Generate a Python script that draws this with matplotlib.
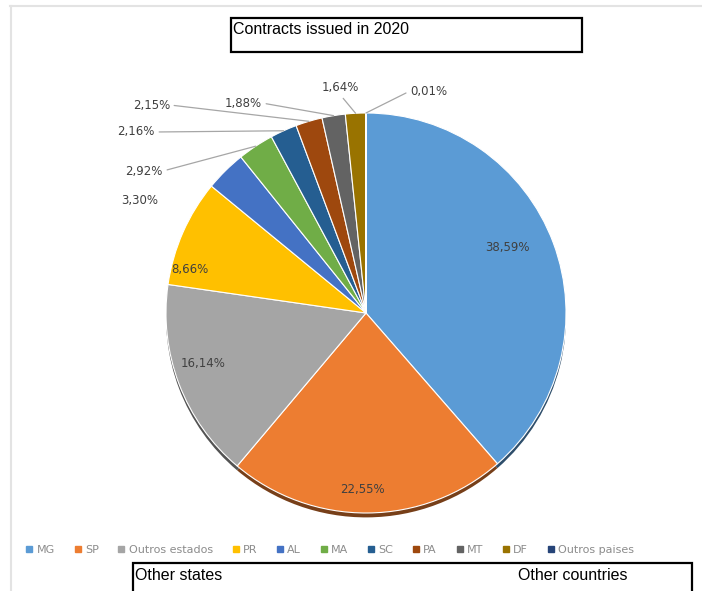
import matplotlib
matplotlib.use("Agg")
import matplotlib.pyplot as plt
import numpy as np
from matplotlib.patches import Rectangle
from matplotlib.lines import Line2D
import matplotlib.colors as mcolors

categories = ['MG', 'SP', 'Outros estados', 'PR', 'AL', 'MA', 'SC', 'PA', 'MT', 'DF', 'Outros paises']
values = [38.59, 22.55, 16.14, 8.66, 3.30, 2.92, 2.16, 2.15, 1.88, 1.64, 0.01]
value_labels = ['38,59%', '22,55%', '16,14%', '8,66%', '3,30%', '2,92%', '2,16%',
                '2,15%', '1,88%', '1,64%', '0,01%']
colors = ['#5B9BD5', '#ED7D31', '#A5A5A5', '#FFC000', '#4472C4', '#70AD47',
          '#255E91', '#9E480E', '#636363', '#997300', '#264478']
title_text = 'Contracts issued in 2020'
bottom_left_text = 'Other states'
bottom_right_text = 'Other countries'

W, H = 702, 591
fig = plt.figure(figsize=(W / 100, H / 100), dpi=100)
fig.patch.set_facecolor('white')

def fx(x):
    return x / W

def fy(y):
    return 1 - y / H

# light frame of the chart area
fig.add_artist(Line2D([fx(10), fx(702)], [fy(6), fy(6)], color='#e3e3e3', lw=1.5))
fig.add_artist(Line2D([fx(11), fx(11)], [fy(6), fy(591)], color='#e3e3e3', lw=1.5))

# pie axes: centre (366,313), radius 200 px
ax = fig.add_axes([fx(166), 78 / H, 400 / W, 400 / H])

# shadow
dark = [tuple(c * 0.5 for c in mcolors.to_rgb(col)) for col in colors]
ax.pie(values, colors=dark, startangle=90, counterclock=False, center=(0, -0.022),
       wedgeprops=dict(linewidth=0))
wedges, _ = ax.pie(values, colors=colors, startangle=90, counterclock=False,
                   wedgeprops=dict(edgecolor='white', linewidth=0.8))
ax.set_xlim(-1.0, 1.0)
ax.set_ylim(-1.0, 1.0)
ax.set_aspect('equal')
ax.axis('off')

label_color = '#404040'
label_font = dict(fontsize=8.5, color=label_color, family='DejaVu Sans')

# inside labels (pixel positions of label centres)
inside_pos = {0: (507, 247), 1: (362, 490), 2: (203, 363), 3: (190, 270)}
for i, (x, y) in inside_pos.items():
    fig.text(fx(x), fy(y), value_labels[i], ha='center', va='center', **label_font)

# outside labels with leader lines: (pixel position, ha, relpos, draw line)
outside = {
    4: ((140, 200), 'center', (1, 0.5), False),
    5: ((163, 171), 'right', (1, 0.5), True),
    6: ((155, 132), 'right', (1, 0.5), True),
    7: ((170, 105), 'right', (1, 0.5), True),
    8: ((262, 103), 'right', (1, 0.5), True),
    9: ((340, 88), 'center', (0.5, 0), True),
    10: ((410, 91), 'left', (0, 0.5), True),
}
for i, ((x, y), ha, rel, line) in outside.items():
    w = wedges[i]
    ang = np.deg2rad((w.theta1 + w.theta2) / 2)
    xy = (np.cos(ang), np.sin(ang))
    if line:
        ax.annotate(value_labels[i], xy=xy, xycoords='data',
                    xytext=(fx(x), fy(y)), textcoords='figure fraction',
                    ha=ha, va='center', annotation_clip=False,
                    arrowprops=dict(arrowstyle='-', color='#a6a6a6', lw=0.9,
                                    relpos=rel, shrinkA=1, shrinkB=0),
                    **label_font)
    else:
        fig.text(fx(x), fy(y), value_labels[i], ha=ha, va='center', **label_font)

# legend
handles = [Line2D([0], [0], marker='s', linestyle='none', markersize=3.8,
                  markerfacecolor=c, markeredgecolor=c) for c in colors]
leg = fig.legend(handles, categories, loc='center left',
                 bbox_to_anchor=(fx(26), fy(550)), ncol=len(categories),
                 frameon=False, fontsize=8, handlelength=0.6, handletextpad=0.35,
                 columnspacing=1.75, borderaxespad=0, borderpad=0)
for t in leg.get_texts():
    t.set_color('#8c8c8c')

# title box
fig.add_artist(Rectangle((fx(231), fy(52)), (582 - 231) / W, (52 - 18) / H,
                         transform=fig.transFigure, fill=False, edgecolor='black', lw=1.6))
fig.text(fx(233), fy(30), title_text, ha='left', va='center', fontsize=11.5,
         family='Liberation Sans', color='black')

# bottom box
fig.add_artist(Rectangle((fx(133), fy(600)), (692 - 133) / W, (600 - 563) / H,
                         transform=fig.transFigure, fill=False, edgecolor='black', lw=1.6,
                         clip_on=False))
fig.text(fx(135), fy(575), bottom_left_text, ha='left', va='center', fontsize=11.5,
         family='Liberation Sans', color='black')
fig.text(fx(518), fy(575), bottom_right_text, ha='left', va='center', fontsize=11.5,
         family='Liberation Sans', color='black')

fig.savefig('out.png', dpi=100, facecolor='white')
